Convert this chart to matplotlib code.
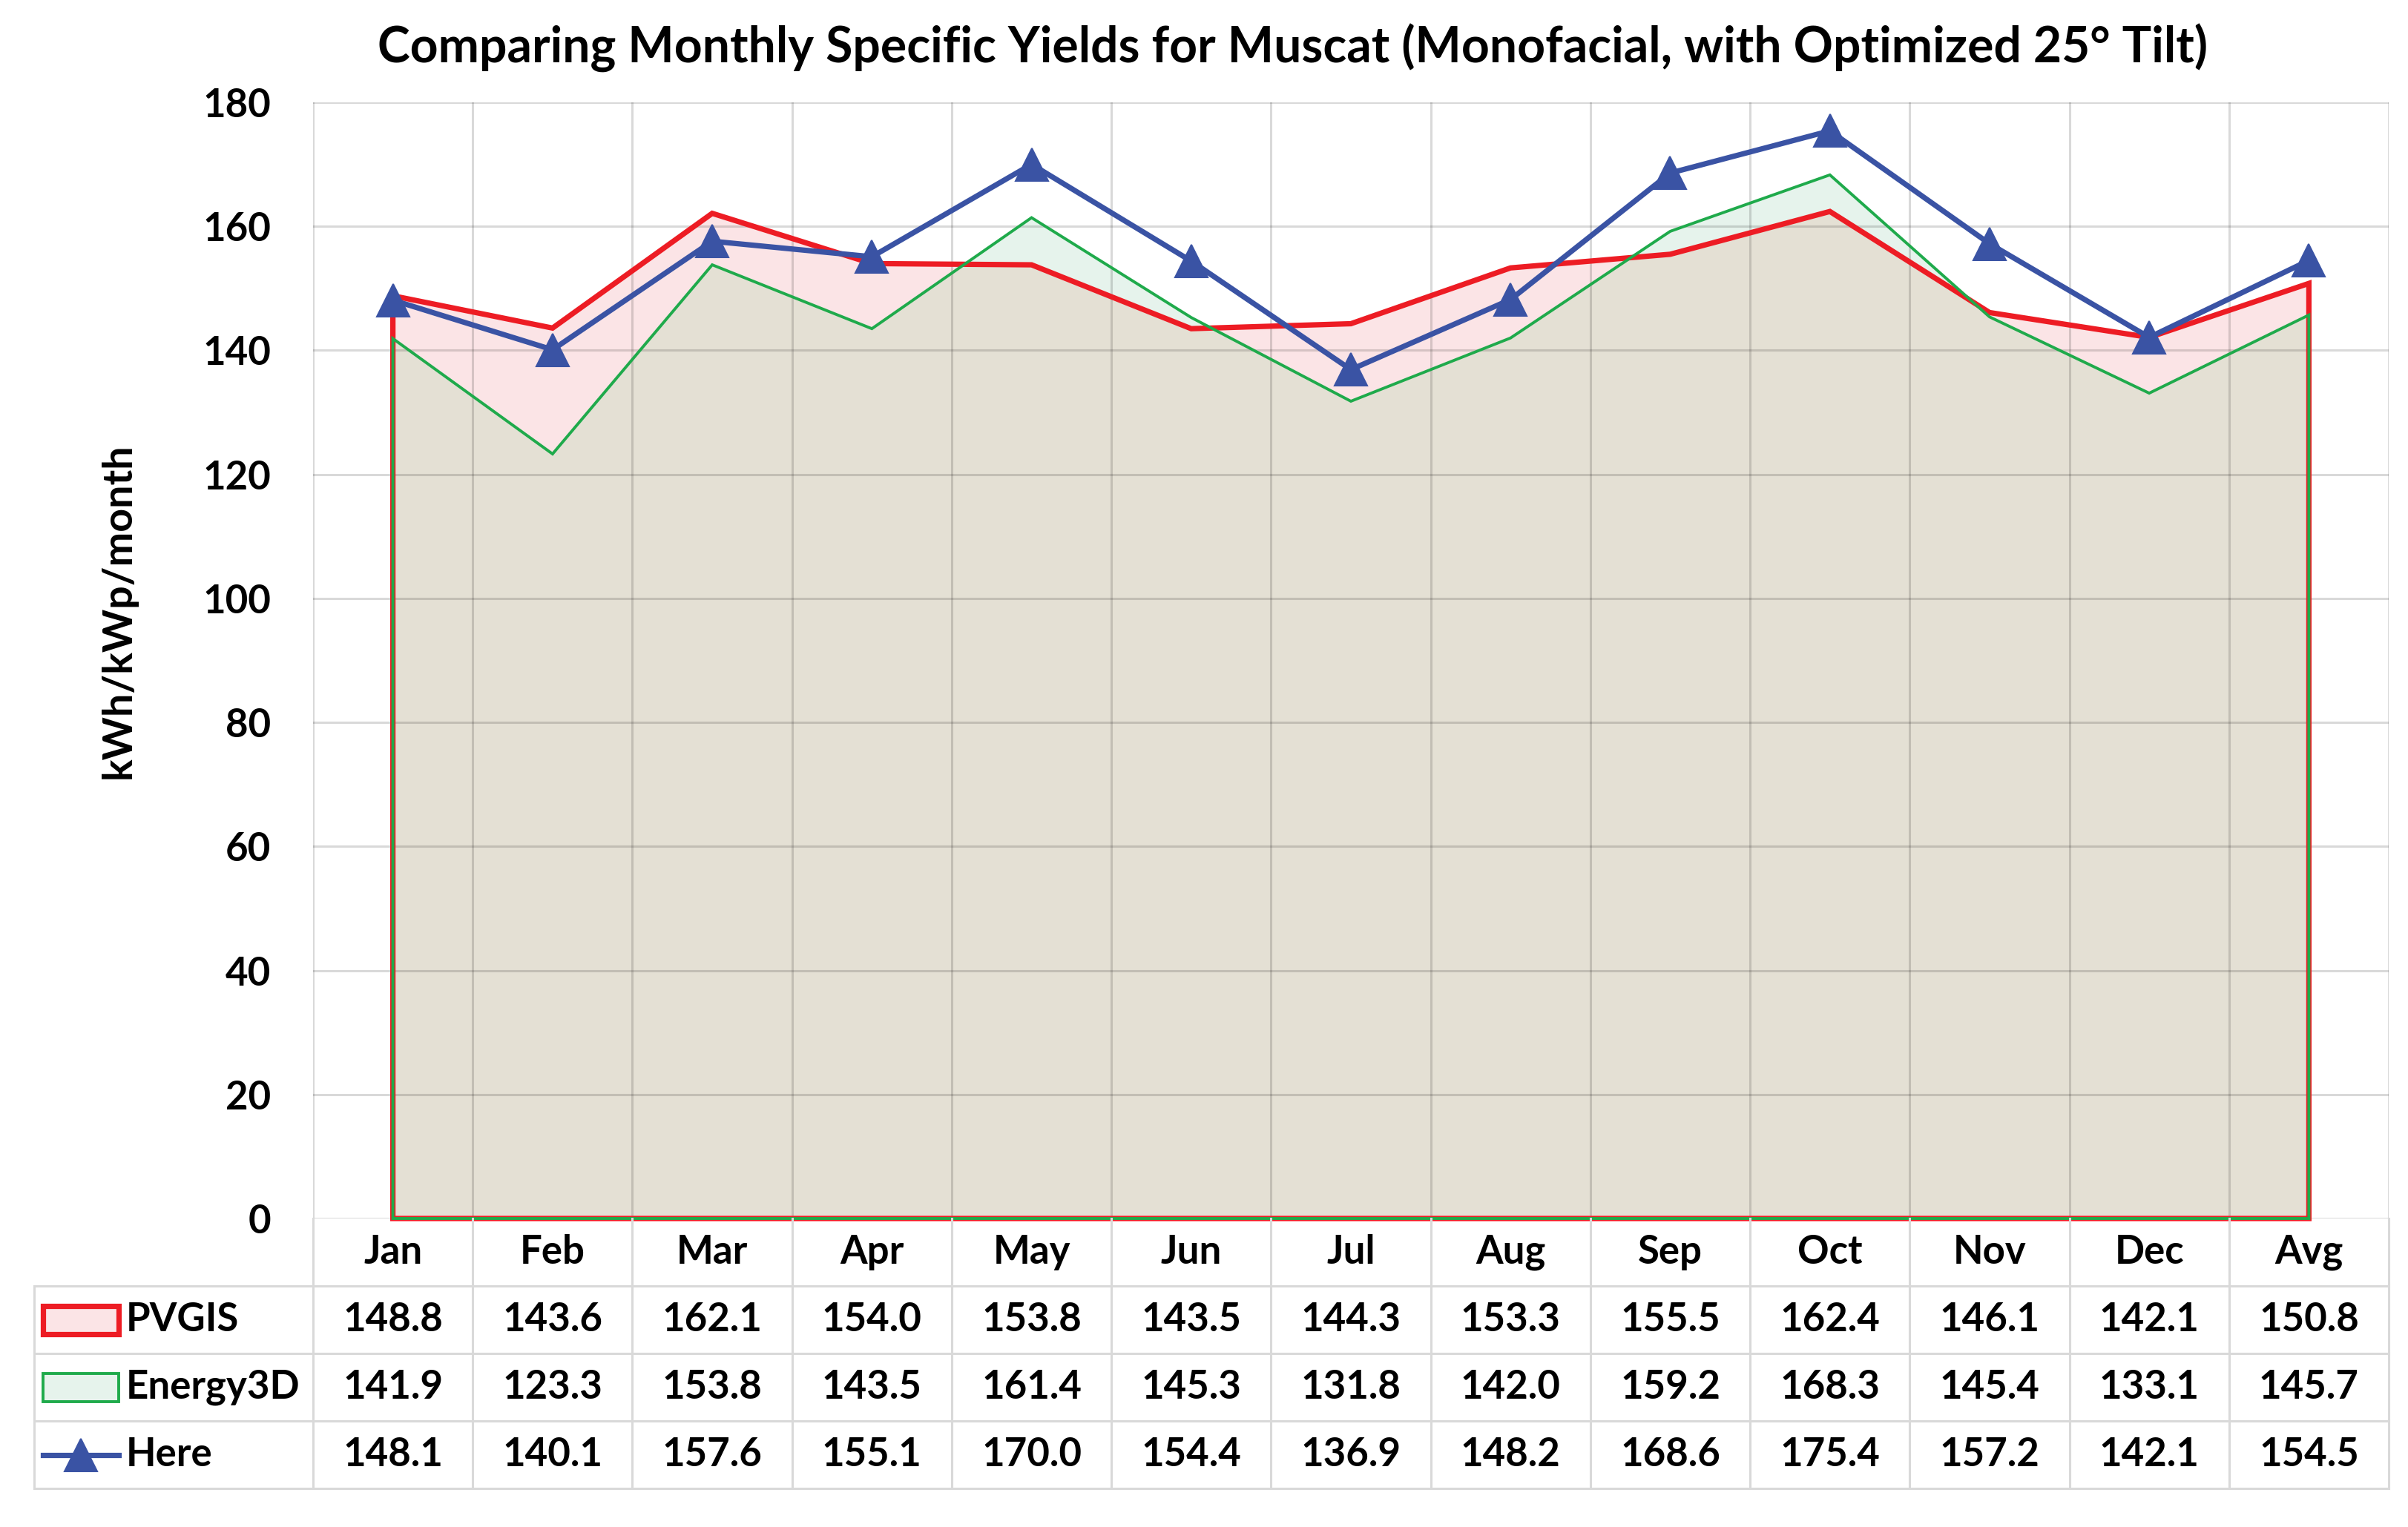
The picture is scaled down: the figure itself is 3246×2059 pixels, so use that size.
import numpy as np
import matplotlib.pyplot as plt
from matplotlib.patches import Polygon, Rectangle

months = ['Jan', 'Feb', 'Mar', 'Apr', 'May', 'Jun', 'Jul', 'Aug', 'Sep', 'Oct', 'Nov', 'Dec', 'Avg']
pvgis = [148.8, 143.6, 162.1, 154.0, 153.8, 143.5, 144.3, 153.3, 155.5, 162.4, 146.1, 142.1, 150.8]
energy3d = [141.9, 123.3, 153.8, 143.5, 161.4, 145.3, 131.8, 142.0, 159.2, 168.3, 145.4, 133.1, 145.7]
here = [148.1, 140.1, 157.6, 155.1, 170.0, 154.4, 136.9, 148.2, 168.6, 175.4, 157.2, 142.1, 154.5]
series_names = ['PVGIS', 'Energy3D', 'Here']

RED = '#ed1c24'
GREEN = '#1faa4b'
BLUE = '#3a53a4'
PINK = '#fbe4e6'
MINT = '#e6f3ec'
BEIGE = '#e4e0d4'
TABLE_LINE = '#d9d9d9'

plt.rcParams['font.family'] = ['Lato', 'DejaVu Sans']
plt.rcParams['font.weight'] = 'bold'

W, H = 3246, 2059
fig = plt.figure(figsize=(W / 100, H / 100), dpi=100)

# plot area in pixels
left, right, top, bottom = 422, 3220, 138, 1643
ax = fig.add_axes([left / W, 1 - bottom / H, (right - left) / W, (bottom - top) / H])

x = np.arange(len(months))
p = np.array(pvgis)
e = np.array(energy3d)
h = np.array(here)
zero = np.zeros_like(p)

# area fills: pvgis-only pink, energy3d-only mint, overlap beige
ax.fill_between(x, 0, p, color=PINK, lw=0, zorder=1)
ax.fill_between(x, 0, e, color=MINT, lw=0, zorder=1)
ov = ax.fill_between(x, 0, e, color=BEIGE, lw=0, zorder=1.1)
pv_poly = Polygon(np.column_stack([np.r_[x, x[::-1]], np.r_[p, zero]]),
                  transform=ax.transData, fill=False, lw=0)
ax.add_patch(pv_poly)
ov.set_clip_path(pv_poly)

# area outlines
ax.add_patch(Polygon(np.column_stack([np.r_[x, x[::-1]], np.r_[p, zero]]),
                     fill=False, ec=RED, lw=5.2, joinstyle='miter', zorder=3, clip_on=False))
ax.add_patch(Polygon(np.column_stack([np.r_[x, x[::-1]], np.r_[e, zero]]),
                     fill=False, ec=GREEN, lw=2.8, joinstyle='miter', zorder=3.1, clip_on=False))

ax.plot(x, h, color=BLUE, lw=5.2, marker='^', ms=31, mec=BLUE, mew=1.5, zorder=4, clip_on=False)

ax.set_xlim(-0.5, len(months) - 0.5)
ax.set_ylim(0, 180)
ax.set_yticks(np.arange(0, 181, 20))
ax.set_xticks([])
ax.set_xticks(np.arange(-0.5, len(months), 1), minor=True)
ax.set_axisbelow(False)
ax.grid(axis='y', which='major', color='black', alpha=0.15, lw=2.2)
ax.grid(axis='x', which='minor', color='black', alpha=0.15, lw=2.2)
ax.tick_params(axis='both', which='both', length=0)
ax.tick_params(axis='y', labelsize=38, pad=41)
for lab in ax.get_yticklabels():
    lab.set_fontweight('bold')
for s in ax.spines.values():
    s.set_visible(False)

fig.text(1743 / W, 1 - 85 / H,
         'Comparing Monthly Specific Yields for Muscat (Monofacial, with Optimized 25\u00b0 Tilt)',
         ha='center', va='baseline', fontsize=47.5, fontweight='bold')
fig.text(160 / W, 1 - 824 / H, 'kWh/kWp/month', rotation=90, ha='center', va='center',
         fontsize=40, fontweight='bold')

# data table below the plot
tab_bottom = 2007
tax = fig.add_axes([left / W, 1 - tab_bottom / H, (right - left) / W, (tab_bottom - bottom) / H])
tax.set_xlim(ax.get_xlim())
tax.set_ylim(4, 0)
tax.axis('off')

col_px = (right - left) / len(months)


def px_x(px):
    return -0.5 + (px - left) / col_px


tab_left = px_x(46)
for r in range(1, 5):
    tax.plot([tab_left, len(months) - 0.5], [r, r], color=TABLE_LINE, lw=2.2, clip_on=False)
for c in range(len(months) + 1):
    tax.plot([c - 0.5, c - 0.5], [0, 4], color=TABLE_LINE, lw=2.2, clip_on=False)
tax.plot([tab_left, tab_left], [1, 4], color=TABLE_LINE, lw=2.2, clip_on=False)

for i, m in enumerate(months):
    tax.text(i, 0.5, m, ha='center', va='center', fontsize=38, fontweight='bold')
for r, vals in enumerate([pvgis, energy3d, here], start=1):
    for i, v in enumerate(vals):
        tax.text(i, r + 0.5, '%.1f' % v, ha='center', va='center', fontsize=38, fontweight='bold')

# legend keys in the first column
k0, k1 = px_x(58), px_x(160)
kh = 38 / 91.0
tax.add_patch(Rectangle((k0, 1.5 - kh / 2), k1 - k0, kh, fc=PINK, ec=RED, lw=5.2, clip_on=False))
tax.add_patch(Rectangle((k0, 2.5 - kh / 2), k1 - k0, kh, fc=MINT, ec=GREEN, lw=2.8, clip_on=False))
tax.plot([k0, k1], [3.5, 3.5], color=BLUE, lw=5.2, clip_on=False)
tax.plot([(k0 + k1) / 2], [3.5], color=BLUE, marker='^', ms=31, mec=BLUE, mew=1.5, clip_on=False)
for r, name in enumerate(series_names, start=1):
    tax.text(px_x(170), r + 0.5, name, ha='left', va='center', fontsize=38, fontweight='bold')

fig.savefig('out.png', dpi=100)
